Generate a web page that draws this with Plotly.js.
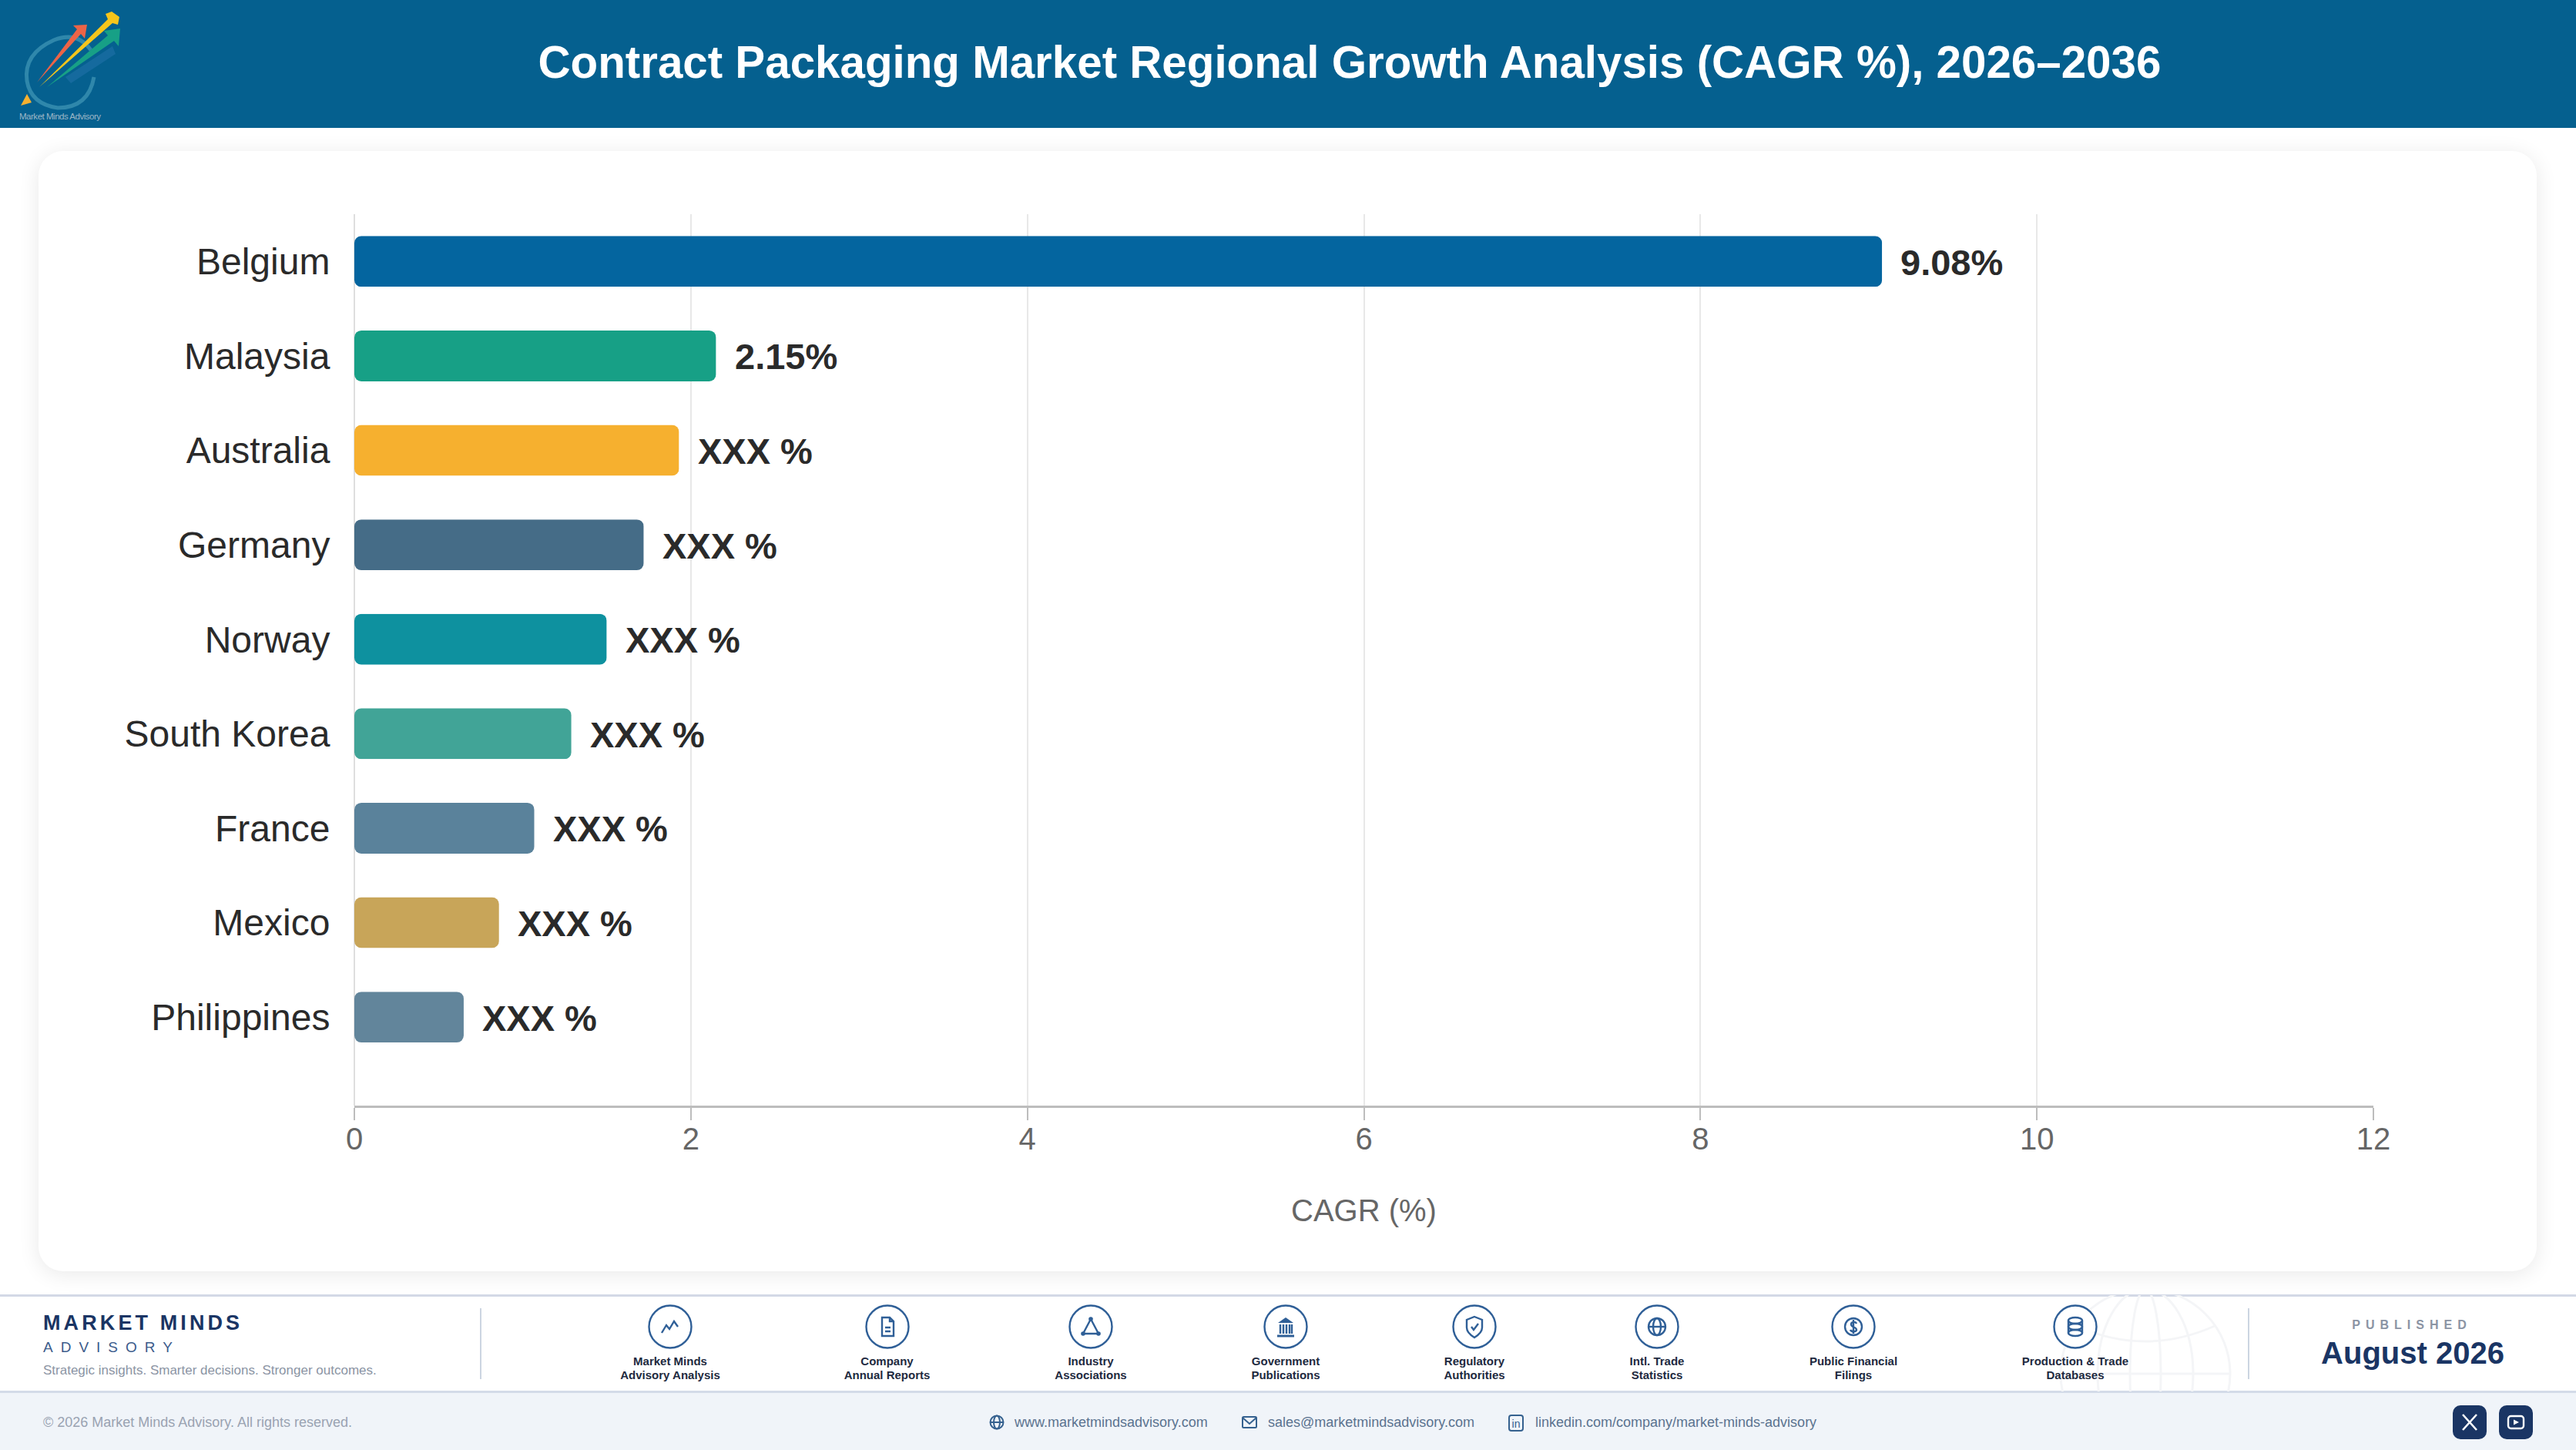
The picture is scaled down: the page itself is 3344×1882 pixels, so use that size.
<!DOCTYPE html>
<html><head><meta charset="utf-8">
<script src="https://cdn.plot.ly/plotly-3.0.1.min.js"></script>
<style>
html,body{margin:0;padding:0;width:3344px;height:1882px;overflow:hidden;background:#fff;font-family:"Liberation Sans",Arial,sans-serif}
.abs{position:absolute}
#header{left:0;top:0;width:3344px;height:166px;background:#05608f}
#card{left:50px;top:196px;width:3243px;height:1454px;background:#fff;border-radius:32px;box-shadow:0 4px 28px rgba(0,0,0,.09)}
#band{left:0;top:1680px;width:3344px;height:128px;background:#fff;border-top:3px solid #d3d9e6;border-bottom:3px solid #d3dbe8;box-sizing:border-box;overflow:hidden}
#bottom{left:0;top:1808px;width:3344px;height:74px;background:#f0f4f9}
#chart{left:0;top:0;width:3344px;height:1882px}
.t{position:absolute;white-space:nowrap}
.c{transform:translateX(-50%);text-align:center}
.barlayer .point path{clip-path:inset(0 round 9px) fill-box}
svg.i{position:absolute;overflow:visible}
</style></head><body>
<div id="header" class="abs"></div>
<div id="card" class="abs"></div>
<div id="band" class="abs"></div>
<div id="bottom" class="abs"></div>
<div id="chart" class="abs"></div>
<div id="overlay" class="abs" style="left:0;top:0;width:3344px;height:1882px;pointer-events:none"></div>
<script>
const titleText = "Contract Packaging Market Regional Growth Analysis (CAGR %), 2026–2036";
const countries = ["Belgium","Malaysia","Australia","Germany","Norway","South Korea","France","Mexico","Philippines"];
const cagrValues = [9.08,2.15,1.93,1.72,1.50,1.29,1.07,0.86,0.65];
const barLabels = ["9.08%","2.15%","XXX %","XXX %","XXX %","XXX %","XXX %","XXX %","XXX %"];
const barColors = ["#04659f","#17a086","#f6b02f","#456c87","#0e919f","#41a497","#5a829b","#c8a559","#62859b"];
const xTicks = [0,2,4,6,8,10,12];
const axisTitle = "CAGR (%)";
const sourceLabels = [["Market Minds","Advisory Analysis"],["Company","Annual Reports"],["Industry","Associations"],["Government","Publications"],["Regulatory","Authorities"],["Intl. Trade","Statistics"],["Public Financial","Filings"],["Production & Trade","Databases"]];
const contacts = ["www.marketmindsadvisory.com","sales@marketmindsadvisory.com","linkedin.com/company/market-minds-advisory"];

Plotly.newPlot("chart",[{
  type:"bar",orientation:"h",y:countries,x:cagrValues,width:0.538,
  marker:{color:barColors,line:{width:0}},hoverinfo:"skip",cliponaxis:false
}],{
  width:3344,height:1882,showlegend:false,
  paper_bgcolor:"rgba(0,0,0,0)",plot_bgcolor:"rgba(0,0,0,0)",
  margin:{l:460,r:263,t:278,b:447,pad:0},
  font:{family:'"Liberation Sans",Arial,sans-serif'},
  title:{text:titleText,font:{size:58.3,color:"#fff",weight:700},xref:"container",yref:"container",x:0.5239,xanchor:"center",y:0.957,yanchor:"middle"},
  xaxis:{range:[0,12],tickmode:"array",tickvals:xTicks,ticktext:xTicks.map(String),
    showgrid:true,gridcolor:"#e8e8e8",gridwidth:2,zeroline:true,zerolinecolor:"#dedede",zerolinewidth:2,
    showline:true,linecolor:"#bdbdbd",linewidth:3,ticks:"outside",ticklen:16,tickwidth:2,tickcolor:"#bdbdbd",ticklabelstandoff:-10,
    tickfont:{size:40,color:"#666"},title:{text:axisTitle,font:{size:40,color:"#666"},standoff:58}},
  yaxis:{type:"category",categoryorder:"array",categoryarray:countries,range:[8.937,-0.5],autorange:false,
    showgrid:false,zeroline:false,showline:false,ticks:"outside",ticklen:21,tickcolor:"rgba(0,0,0,0)",
    tickfont:{size:48,color:"#2a2a2a"}},
  annotations:countries.map((c,i)=>({x:cagrValues[i],y:c,xref:"x",yref:"y",text:"<b>"+barLabels[i]+"</b>",showarrow:false,xanchor:"left",yanchor:"middle",xshift:22,yshift:-1,font:{size:47,color:"#2a2a2a"}})),
  bargap:0.46
},{displayModeBar:false,staticPlot:true});

const ov=document.getElementById("overlay");
function txt(s,x,y,size,color,opts={}){
  const d=document.createElement("div");d.className="t"+(opts.center?" c":"");d.textContent=s;
  d.style.cssText+=`left:${x}px;top:${y-size*0.6}px;font-size:${size}px;line-height:${size*1.2}px;color:${color};`+
   (opts.bold?"font-weight:700;":"")+(opts.ls?`letter-spacing:${opts.ls}px;`:"");
  ov.appendChild(d);return d;
}
function svg(x,y,w,h,inner,vb){
  const wrap=document.createElementNS("http://www.w3.org/2000/svg","svg");
  wrap.setAttribute("class","i");wrap.setAttribute("width",w);wrap.setAttribute("height",h);
  wrap.setAttribute("viewBox",vb||`0 0 ${w} ${h}`);wrap.style.left=x+"px";wrap.style.top=y+"px";
  wrap.innerHTML=inner;ov.appendChild(wrap);return wrap;
}
// logo
svg(0,0,180,166,`
<path d="M118 65 Q100 40 70 52 Q30 70 35 105 Q40 135 75 140 Q115 140 122 100" fill="none" stroke="#2f87ab" stroke-width="5"/>
<polygon points="27,137 35,122 41,133" fill="#f6b02f"/>
<polygon points="85,100 146,60 150,70 92,108" fill="#1b6da3" opacity=".75"/>
<polygon points="61,113 140,46 135,40 156,37 154,60 148,53" fill="#17a086"/>
<polygon points="48,107 100,38 95,33 113,32 110,50 105,44" fill="#ec6447"/>
<polygon points="51,113 140,25 137,18 145,15 155,22 153,32 146,30" fill="#f6c51b"/>
<text x="25" y="155" font-size="11.5" fill="#9db6c6" font-family="Liberation Sans" textLength="106">Market Minds Advisory</text>`);
// footer left
txt("MARKET MINDS",56,1717,27,"#1a3564",{bold:true,ls:4.1});
txt("ADVISORY",56,1749,19,"#3b5b8b",{ls:10});
txt("Strategic insights. Smarter decisions. Stronger outcomes.",56,1779,17,"#8b94a4");
// dividers
[624,2919].forEach(x=>{const d=document.createElement("div");d.className="abs";d.style.cssText=`left:${x-1}px;top:1698px;width:2px;height:92px;background:#ccd5e1`;ov.appendChild(d);});
// watermark globe
svg(2650,1681,280,125,`<g fill="none" stroke="#f4f5f7" stroke-width="3">
<circle cx="135" cy="102" r="110"/><ellipse cx="135" cy="102" rx="62" ry="110"/><ellipse cx="135" cy="102" rx="20" ry="110"/>
<path d="M25 102H245M45 40Q135 80 225 40"/></g>`,"0 0 280 125").style.overflow="hidden";
// source icons
const iconX=[870,1151.5,1416,1669,1914,2151,2406,2694];
const S='fill="none" stroke="#2f5f97" stroke-width="2.4"';
const glyphs=[
 `<path d="M-11 8L-5 -2L-1 3L5 -7L10 0" ${S}/>`,
 `<path d="M-7 -12H3L8 -7V12H-7Z M3 -12V-7H8 M-3 1H4 M-3 6H4" ${S}/>`,
 `<path d="M0 -10L-10 9H10Z" ${S}/><circle cx="0" cy="-10" r="2.8" fill="#2f5f97"/><circle cx="-10" cy="9" r="2.8" fill="#2f5f97"/><circle cx="10" cy="9" r="2.8" fill="#2f5f97"/>`,
 `<path d="M0 -12L10 -5H-10Z" fill="#2f5f97"/><path d="M-7 -3V9M-3 -3V9M1 -3V9M5 -3V9M8 -3V9" ${S}/><path d="M-11 12H11" stroke="#2f5f97" stroke-width="3"/>`,
 `<path d="M0 -13L10 -9V1C10 7 5 11 0 14C-5 11 -10 7 -10 1V-9Z M-4 0L-1 4L5 -4" ${S}/>`,
 `<circle r="11" ${S}/><ellipse rx="5" ry="11" ${S}/><path d="M-11 0H11" ${S}/>`,
 `<circle r="11" ${S}/><path d="M4 -4C3 -7 -3 -7 -3 -3C-3 1 4 0 4 4C4 7 -3 7 -4 4M0 -9V9" ${S}/>`,
 `<ellipse cy="-8" rx="9" ry="4" ${S}/><ellipse cy="0" rx="9" ry="4" ${S}/><ellipse cy="8" rx="9" ry="4" ${S}/><path d="M-9 -8V8M9 -8V8" ${S}/>`
];
iconX.forEach((x,i)=>{
  svg(x-30,1692,60,60,`<circle r="27.5" fill="#fff" stroke="#2f5f97" stroke-width="2.4"/>${glyphs[i]}`,"-30 -30 60 60");
  sourceLabels[i].forEach((l,j)=>txt(l,x,1767+18*j,15,"#1e2a40",{bold:true,center:true}));
});
// published
txt("PUBLISHED",3131,1720,16,"#8b94a4",{bold:true,center:true,ls:7});
txt("August 2026",3132,1756,40,"#1a3564",{bold:true,center:true});
// bottom bar
txt("© 2026 Market Minds Advisory. All rights reserved.",56,1847,18,"#9aa3b2");
const cS='fill="none" stroke="#35618f" stroke-width="2"';
svg(1284,1836,20,20,`<circle cx="10" cy="10" r="8.5" ${cS}/><ellipse cx="10" cy="10" rx="4" ry="8.5" ${cS}/><path d="M1.5 10H18.5" ${cS}/>`);
txt(contacts[0],1317,1847,18,"#5b7390");
svg(1612,1836,20,20,`<rect x="1" y="3" width="18" height="14" rx="1.5" ${cS}/><path d="M1 4L10 12L19 4" ${cS}/>`);
txt(contacts[1],1646,1847,18,"#5b7390");
svg(1958,1836,20,22,`<rect x="1" y="1" width="18" height="20" rx="3" ${cS}/><text x="10" y="17" text-anchor="middle" font-size="14" fill="#35618f" font-family="Liberation Sans">in</text>`);
txt(contacts[2],1993,1847,18,"#5b7390");
// social
svg(3184,1824,44,44,`<rect width="44" height="44" rx="10" fill="#1a3564"/><path d="M13 12L31 32M31 12L13 32" stroke="#fff" stroke-width="2.6" fill="none"/>`);
svg(3244,1824,44,44,`<rect width="44" height="44" rx="10" fill="#1a3564"/><rect x="12" y="14" width="20" height="16" rx="3.5" stroke="#fff" stroke-width="2.4" fill="none"/><polygon points="19,18.5 26,22 19,25.5" fill="#fff"/>`);
</script>
</body></html>
